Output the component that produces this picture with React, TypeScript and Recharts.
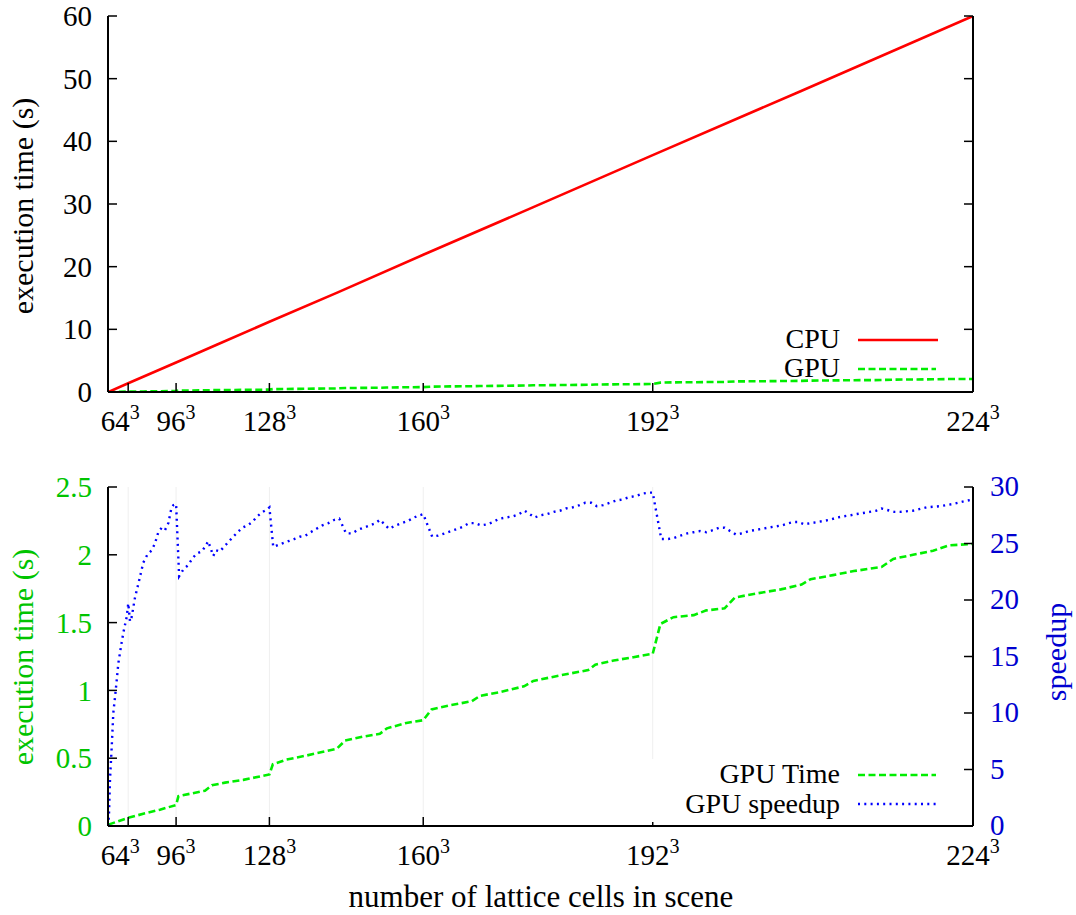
import React from 'react';
import { LineChart, Line, XAxis, YAxis, CartesianGrid } from 'recharts';

// ---------- data (lattice side N) ----------
const tickSides = [64, 96, 128, 160, 192, 224];

const cpuN = [16, 64, 96, 112, 128, 144, 160, 176, 192, 208, 224];
const cpuTime = [0.0, 1.4, 4.7, 7.5, 11.2, 15.9, 21.9, 29.1, 37.8, 48.0, 60.0];

const gpuN = [16, 64, 77.1, 87.7, 96, 97.1, 102.8, 108, 110.5, 115, 120.7, 128, 128.9, 132.4, 137.2, 143.8, 145.5, 149.2, 152.3, 153.6, 157.1, 160, 161.4, 164.4, 167.8, 169.1, 171.8, 175.5, 176.8, 180.4, 184.1, 185, 187.3, 189.7, 192, 192.9, 194.4, 196.7, 198.1, 200.1, 201.2, 203.5, 206, 208.1, 209, 211.2, 213.2, 215.8, 216.9, 218.7, 220.5, 221.9, 224];
const gpuTime = [0.01, 0.06, 0.09, 0.12, 0.155, 0.22, 0.24, 0.26, 0.30, 0.32, 0.34, 0.38, 0.455, 0.49, 0.52, 0.57, 0.63, 0.66, 0.68, 0.72, 0.76, 0.78, 0.86, 0.89, 0.92, 0.96, 0.985, 1.03, 1.07, 1.11, 1.15, 1.19, 1.22, 1.245, 1.27, 1.49, 1.54, 1.555, 1.59, 1.605, 1.685, 1.715, 1.745, 1.78, 1.82, 1.85, 1.88, 1.91, 1.97, 2.0, 2.03, 2.07, 2.08];

const speedN = [16, 23.5, 29.6, 36.4, 41, 45, 48.4, 51.2, 55.3, 58.4, 62.4, 64.1, 65.9, 67.5, 70.5, 74.1, 77.1, 79.9, 82.8, 84.8, 86.8, 88.7, 90.5, 92.2, 93.6, 94.7, 96, 97.4, 99.3, 101.4, 103.2, 104.8, 106.8, 108, 109.2, 111, 112, 113.3, 114.6, 116, 117.6, 119, 120.4, 121.9, 123.3, 124.7, 126.2, 127.3, 128, 129, 131.2, 132.8, 134.3, 135.6, 136.9, 138.1, 139.4, 140.7, 142, 143.3, 144.3, 145.7, 147, 148, 149.2, 150.4, 151.5, 152.3, 154, 155.2, 156.3, 157.4, 158.4, 159.4, 160, 161.5, 162.5, 163.6, 164.6, 165.6, 166.5, 167.4, 168.3, 169.2, 170.2, 171, 172, 172.9, 173.9, 174.8, 175.6, 177, 177.8, 178.7, 179.6, 180.4, 181.2, 182.1, 183, 183.7, 184.5, 185.2, 186, 186.8, 187.6, 188.4, 189.2, 190, 190.7, 191.5, 192, 193, 193.8, 194.5, 195.2, 196, 196.7, 197.4, 198.1, 198.9, 199.5, 200.1, 201.3, 202, 202.7, 203.4, 204.1, 204.7, 205.4, 206.1, 206.8, 207.3, 207.8, 208.4, 209, 209.7, 210.3, 210.9, 211.6, 212.2, 212.9, 213.4, 214.1, 214.7, 215.3, 215.8, 217, 217.5, 218.7, 219.9, 221.1, 222.3, 223.5, 224];
const speedup = [0, 1.1, 4.1, 7, 10, 11.4, 12.9, 14.4, 15.9, 17.1, 18.5, 19.7, 18.1, 18.5, 20.2, 21.8, 23.3, 24, 24.4, 25, 26, 26.4, 26.2, 26.8, 28, 28.4, 28.5, 22.1, 22.7, 23.1, 23.7, 24.1, 24.3, 24.7, 25.2, 23.9, 24.4, 24.3, 24.7, 25.1, 25.6, 26, 26.4, 26.6, 26.9, 27.4, 27.8, 28, 28.2, 24.7, 25, 25.2, 25.4, 25.6, 25.7, 26, 26.3, 26.6, 26.8, 27.1, 27.2, 25.9, 25.9, 26.2, 26.4, 26.6, 26.8, 27.1, 26.3, 26.6, 26.8, 27, 27.3, 27.5, 27.6, 25.6, 25.7, 25.9, 26.1, 26.3, 26.5, 26.8, 26.8, 26.6, 26.7, 26.9, 27.2, 27.3, 27.4, 27.6, 27.9, 27.3, 27.5, 27.6, 27.8, 27.9, 28.1, 28.2, 28.4, 28.6, 28.6, 28.3, 28.4, 28.6, 28.8, 28.9, 29.1, 29.2, 29.4, 29.5, 29.5, 25.4, 25.4, 25.5, 25.7, 25.9, 26, 26.1, 26, 26.2, 26.4, 26.4, 25.8, 25.9, 26.1, 26.2, 26.3, 26.4, 26.5, 26.6, 26.8, 26.9, 26.9, 26.7, 26.8, 26.9, 27, 27.1, 27.3, 27.4, 27.5, 27.6, 27.7, 27.8, 27.9, 28.1, 27.8, 27.8, 27.9, 28.2, 28.3, 28.5, 28.8, 28.9];

const topYTicks = [0, 10, 20, 30, 40, 50, 60];
const leftYTicks = [0, 0.5, 1, 1.5, 2, 2.5];
const rightYTicks = [0, 5, 10, 15, 20, 25, 30];

// ---------- helpers ----------
const FONT = '"Liberation Serif", "Times New Roman", serif';
const GREEN = '#00ee00';
const GREEN_TXT = '#00c400';
const BLUE = '#0000ff';
const BLUE_TXT = '#0000d0';
const RED = '#ff0000';
const TICK_FS = 29;
const TITLE_FS = 30;
const LEGEND_FS = 28;

const cube = (n: number) => n * n * n;
const xTicks = tickSides.map(cube);
const xMax = cube(224);

function buildTable(series: { key: string; n: number[]; v: number[] }[]) {
  const map = new Map<number, any>();
  series.forEach((s) =>
    s.n.forEach((n, i) => {
      const x = cube(n);
      const row = map.get(x) || { x };
      row[s.key] = s.v[i];
      map.set(x, row);
    })
  );
  return Array.from(map.values()).sort((a, b) => a.x - b.x);
}

const topData = buildTable([
  { key: 'cpu', n: cpuN, v: cpuTime },
  { key: 'gpu', n: gpuN, v: gpuTime },
]);
const bottomData = buildTable([
  { key: 'gpu', n: gpuN, v: gpuTime },
  { key: 'speed', n: speedN, v: speedup },
]);

const TL = 9;

const XTickBottom = (props: any) => {
  const { x, y, payload } = props;
  const n = Math.round(Math.cbrt(payload.value));
  const dx = n === 64 ? -8 : 0;
  return (
    <g>
      <line x1={x} x2={x} y1={y} y2={y - TL} stroke="#000" strokeWidth={1.5} />
      <text x={x + dx} y={y + 39} textAnchor="middle" fontFamily={FONT} fontSize={TICK_FS} fill="#000">
        <tspan>{n}</tspan>
        <tspan dy={-12} fontSize={20}>3</tspan>
      </text>
    </g>
  );
};

const XTickTop = (props: any) => {
  const { x, y } = props;
  return <line x1={x} x2={x} y1={y} y2={y + TL} stroke="#000" strokeWidth={1.5} />;
};

const makeYTickLeft = (color: string | null) => (props: any) => {
  const { x, y, payload } = props;
  return (
    <g>
      <line x1={x} x2={x + TL} y1={y} y2={y} stroke="#000" strokeWidth={1.5} />
      {color && (
        <text x={x - 16} y={y} dy="0.35em" textAnchor="end" fontFamily={FONT} fontSize={TICK_FS} fill={color}>
          {String(payload.value)}
        </text>
      )}
    </g>
  );
};

const makeYTickRight = (color: string | null) => (props: any) => {
  const { x, y, payload } = props;
  return (
    <g>
      <line x1={x} x2={x - TL} y1={y} y2={y} stroke="#000" strokeWidth={1.5} />
      {color && (
        <text x={x + 17} y={y} dy="0.32em" textAnchor="start" fontFamily={FONT} fontSize={TICK_FS} fill={color}>
          {String(payload.value)}
        </text>
      )}
    </g>
  );
};

const axisLine = { stroke: '#000', strokeWidth: 2 };

export default function App() {
  return (
    <div style={{ position: 'absolute', left: 0, top: 0, width: 1076, height: 915, background: '#fff' }}>
      {/* top panel */}
      <div style={{ position: 'absolute', left: 0, top: 0 }}>
        <LineChart width={1076} height={450} data={topData} margin={{ top: 16, right: 0, bottom: 0, left: 0 }}>
          <XAxis
            xAxisId="b"
            dataKey="x"
            type="number"
            domain={[0, xMax]}
            ticks={xTicks}
            allowDataOverflow
            height={58}
            tickSize={0}
            tickMargin={0}
            tickLine={false}
            axisLine={axisLine}
            tick={XTickBottom}
            interval={0}
          />
          <XAxis
            xAxisId="t"
            orientation="top"
            dataKey="x"
            type="number"
            domain={[0, xMax]}
            ticks={xTicks}
            allowDataOverflow
            height={0}
            tickSize={0}
            tickMargin={0}
            tickLine={false}
            axisLine={axisLine}
            tick={XTickTop}
            interval={0}
          />
          <YAxis
            yAxisId="l"
            type="number"
            domain={[0, 60]}
            ticks={topYTicks}
            allowDataOverflow
            width={108}
            tickSize={0}
            tickMargin={0}
            tickLine={false}
            axisLine={axisLine}
            tick={makeYTickLeft('#000')}
            interval={0}
          />
          <YAxis
            yAxisId="r"
            orientation="right"
            type="number"
            domain={[0, 60]}
            ticks={topYTicks}
            allowDataOverflow
            width={103}
            tickSize={0}
            tickMargin={0}
            tickLine={false}
            axisLine={axisLine}
            tick={makeYTickRight(null)}
            interval={0}
          />
          <Line
            xAxisId="b"
            yAxisId="l"
            dataKey="gpu"
            type="linear"
            stroke={GREEN}
            strokeWidth={2.6}
            strokeDasharray="7 3.5"
            dot={false}
            connectNulls
            isAnimationActive={false}
          />
          <Line
            xAxisId="b"
            yAxisId="l"
            dataKey="cpu"
            type="linear"
            stroke={RED}
            strokeWidth={2.6}
            dot={false}
            connectNulls
            isAnimationActive={false}
          />
        </LineChart>
      </div>

      {/* bottom panel */}
      <div style={{ position: 'absolute', left: 0, top: 450 }}>
        <LineChart width={1076} height={465} data={bottomData} margin={{ top: 37, right: 0, bottom: 0, left: 0 }}>
          <CartesianGrid xAxisId="b" yAxisId="l" horizontal={false} stroke="#efefef" strokeWidth={1} />
          <XAxis
            xAxisId="b"
            dataKey="x"
            type="number"
            domain={[0, xMax]}
            ticks={xTicks}
            allowDataOverflow
            height={89}
            tickSize={0}
            tickMargin={0}
            tickLine={false}
            axisLine={axisLine}
            tick={XTickBottom}
            interval={0}
          />
          <XAxis
            xAxisId="t"
            orientation="top"
            dataKey="x"
            type="number"
            domain={[0, xMax]}
            ticks={xTicks}
            allowDataOverflow
            height={0}
            tickSize={0}
            tickMargin={0}
            tickLine={false}
            axisLine={axisLine}
            tick={XTickTop}
            interval={0}
          />
          <YAxis
            yAxisId="l"
            type="number"
            domain={[0, 2.5]}
            ticks={leftYTicks}
            allowDataOverflow
            width={108}
            tickSize={0}
            tickMargin={0}
            tickLine={false}
            axisLine={axisLine}
            tick={makeYTickLeft(GREEN_TXT)}
            interval={0}
          />
          <YAxis
            yAxisId="r"
            orientation="right"
            type="number"
            domain={[0, 30]}
            ticks={rightYTicks}
            allowDataOverflow
            width={103}
            tickSize={0}
            tickMargin={0}
            tickLine={false}
            axisLine={axisLine}
            tick={makeYTickRight(BLUE_TXT)}
            interval={0}
          />
          <Line
            xAxisId="b"
            yAxisId="l"
            dataKey="gpu"
            type="linear"
            stroke={GREEN}
            strokeWidth={2.6}
            strokeDasharray="7 3.5"
            dot={false}
            connectNulls
            isAnimationActive={false}
          />
          <Line
            xAxisId="b"
            yAxisId="r"
            dataKey="speed"
            type="linear"
            stroke={BLUE}
            strokeWidth={2.4}
            strokeDasharray="2 4.3"
            dot={false}
            connectNulls
            isAnimationActive={false}
          />
        </LineChart>
      </div>

      {/* titles and legends */}
      <svg
        width={1076}
        height={915}
        style={{ position: 'absolute', left: 0, top: 0, pointerEvents: 'none' }}
        fontFamily={FONT}
      >
        <text transform="translate(33,206) rotate(-90)" textAnchor="middle" fontSize={TITLE_FS} fill="#000">
          execution time (s)
        </text>
        <text transform="translate(33,657) rotate(-90)" textAnchor="middle" fontSize={TITLE_FS} fill={GREEN_TXT}>
          execution time (s)
        </text>
        <text transform="translate(1066,652) rotate(-90)" textAnchor="middle" fontSize={TITLE_FS} fill={BLUE_TXT}>
          speedup
        </text>
        <text x={541} y={907} textAnchor="middle" fontSize={31} fill="#000">
          number of lattice cells in scene
        </text>

        {/* top legend */}
        <text x={840} y={348} textAnchor="end" fontSize={LEGEND_FS} fill="#000">CPU</text>
        <line x1={858} x2={938} y1={340} y2={340} stroke={RED} strokeWidth={2.6} />
        <text x={840} y={377} textAnchor="end" fontSize={LEGEND_FS} fill="#000">GPU</text>
        <line x1={858} x2={936} y1={369} y2={369} stroke={GREEN} strokeWidth={2.6} strokeDasharray="7 3.5" />

        {/* bottom legend */}
        <rect x={640} y={759} width={310} height={63} fill="#fff" />
        <text x={840} y={783} textAnchor="end" fontSize={LEGEND_FS} fill="#000">GPU Time</text>
        <line x1={858} x2={936} y1={775} y2={775} stroke={GREEN} strokeWidth={2.6} strokeDasharray="7 3.5" />
        <text x={840} y={813} textAnchor="end" fontSize={LEGEND_FS} fill="#000">GPU speedup</text>
        <line x1={858} x2={936} y1={804} y2={804} stroke={BLUE} strokeWidth={2.4} strokeDasharray="2 4.3" />
      </svg>
    </div>
  );
}
